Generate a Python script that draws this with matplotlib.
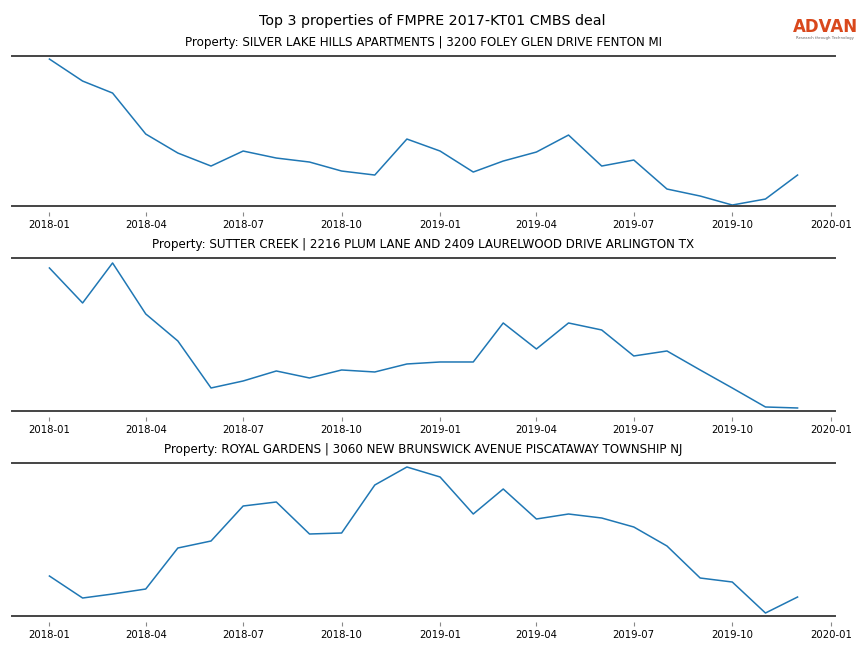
import pandas as pd
import numpy as np
import matplotlib.pyplot as plt

# monthly observations, 2018-01 .. 2019-12
months = pd.date_range("2018-01-01", "2019-12-01", freq="MS")

titles = [
    "Property: SILVER LAKE HILLS APARTMENTS | 3200 FOLEY GLEN DRIVE FENTON MI",
    "Property: SUTTER CREEK | 2216 PLUM LANE AND 2409 LAURELWOOD DRIVE ARLINGTON TX",
    "Property: ROYAL GARDENS | 3060 NEW BRUNSWICK AVENUE PISCATAWAY TOWNSHIP NJ",
]

silver_lake = [147, 125, 113, 72, 53, 40, 55, 48, 44, 35, 31, 67,
               55, 34, 45, 54, 71, 40, 46, 17, 10, 1, 7, 31]
sutter_creek = [143, 108, 148, 97, 70, 23, 30, 40, 33, 41, 39, 47,
                49, 49, 88, 62, 88, 81, 55, 60, 41, 23, 4, 3]
royal_gardens = [40, 18, 22, 27, 68, 75, 110, 114, 82, 83, 131, 149,
                 139, 102, 127, 97, 102, 98, 89, 70, 38, 34, 3, 19]

series = [silver_lake, sutter_creek, royal_gardens]
ylims = [(-6, 150), (-6, 153), (-6, 153)]

tick_dates = pd.date_range("2018-01-01", "2020-01-01", freq="3MS")
tick_labels = [d.strftime("%Y-%m") for d in tick_dates]

fig = plt.figure(figsize=(8.64, 6.48), dpi=100)
fig.suptitle("Top 3 properties of FMPRE 2017-KT01 CMBS deal", y=0.978, fontsize=10.3)

# axes boxes (left, bottom, width, height) in figure fractions
boxes = [
    (0.0139, 0.6728, 0.9525, 0.2407),
    (0.0139, 0.3565, 0.9525, 0.2454),
    (0.0139, 0.0401, 0.9525, 0.2454),
]

for box, vals, title, yl in zip(boxes, series, titles, ylims):
    ax = fig.add_axes(box)
    ax.plot(months, vals, color="#1f77b4", linewidth=1.1)
    ax.set_title(title, fontsize=8.6, pad=7.5)
    ax.set_ylim(*yl)
    ax.set_xticks(tick_dates)
    ax.set_xticklabels(tick_labels, fontsize=7.3)
    ax.tick_params(axis="x", length=3, color="#888888", pad=2.5)
    ax.set_yticks([])
    for side in ["left", "right", "bottom"]:
        ax.spines[side].set_visible(False)
    ax.spines["top"].set_color("#444444")
    ax.spines["top"].set_linewidth(1.4)
    # baseline drawn slightly above the tick row
    ax.axhline(0, color="#444444", linewidth=1.4, clip_on=False)

# logo
fig.text(0.9550, 0.958, "ADVAN", color="#d9481c", fontsize=12, ha="center",
         va="center", fontweight="bold")
fig.text(0.9550, 0.941, "Research through Technology", color="#666666",
         fontsize=2.8, ha="center", va="center")

fig.savefig("out.png", dpi=100)
